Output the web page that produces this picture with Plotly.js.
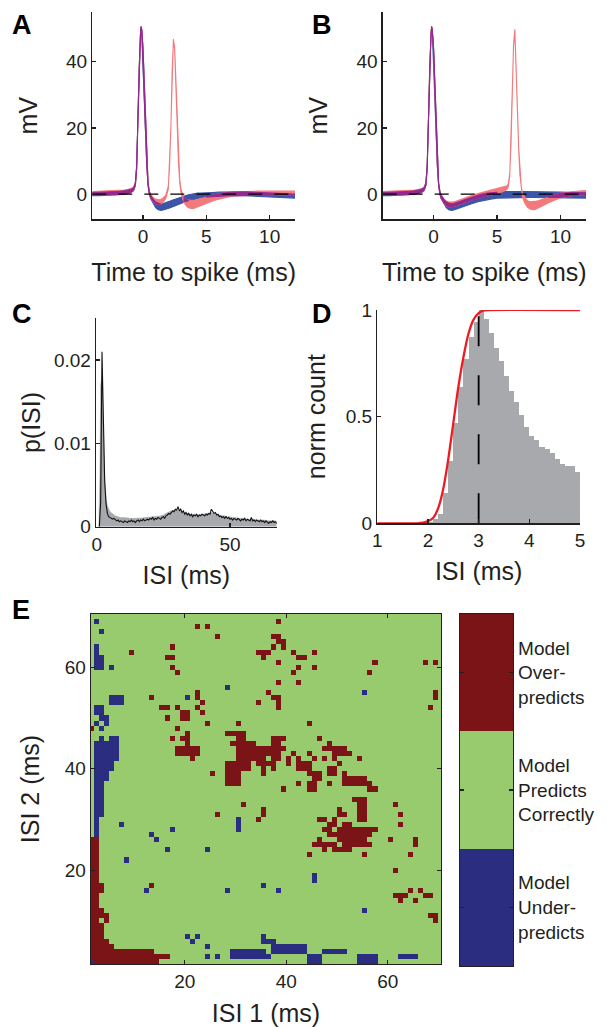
<!DOCTYPE html>
<html><head><meta charset="utf-8">
<script src="https://cdn.plot.ly/plotly-3.0.1.min.js"></script>
<style>html,body{margin:0;padding:0;background:#fff}#chart{width:607px;height:1027px}</style>
</head><body><div id="chart"></div>
<script>
// ---------------- Panel A (time to spike, mV) ----------------
const tA = [-4,-3.5,-3,-2.5,-2,-1.5,-1.2,-1,-0.8,-0.7,-0.6,-0.5,-0.4,-0.3,-0.2,-0.15,-0.1,0,0.1,0.2,0.3,0.4,0.5,0.6,0.8,1.0,1.2,1.4,1.6,1.8,2.0,2.1,2.2,2.3,2.4,2.5,2.6,2.7,2.8,2.9,3.0,3.2,3.4,3.6,3.8,4.0,4.3,4.6,5.0,5.5,6,6.5,7,8,9,10,11,12];
const modelA = [0,0.05,0.1,0.2,0.3,0.5,0.7,0.9,1.3,1.8,3.0,8,22,38,48,50.3,49.5,44,33,20,9,3,0.5,-0.8,-2.2,-3.2,-3.7,-3.9,-3.8,-3.6,-3.3,-3.15,-3.0,-2.85,-2.7,-2.55,-2.4,-2.25,-2.1,-1.95,-1.8,-1.55,-1.3,-1.1,-0.9,-0.75,-0.5,-0.35,-0.2,-0.1,0,0.05,0.1,0.1,0,-0.2,-0.4,-0.6];
const modelSpreadA = [0.5,0.5,0.5,0.5,0.5,0.5,0.5,0.5,0.5,0.5,0.4,0.3,0.3,0.3,0.3,0.3,0.3,0.3,0.3,0.3,0.3,0.3,0.4,0.5,0.7,0.9,1.0,1.0,1.0,1.0,1.0,1.0,1.0,1.0,1.0,1.0,1.0,1.0,1.0,1.0,1.0,1.0,0.9,0.9,0.9,0.8,0.8,0.7,0.7,0.6,0.6,0.6,0.6,0.6,0.6,0.6,0.6,0.6];
const dataA = [0.2,0.25,0.3,0.35,0.45,0.6,0.8,1.0,1.4,1.9,3.0,8,22,38,48,50.3,49.5,44,33,20,9,3,0.5,-0.6,-1.6,-2.2,-2.4,-2.3,-1.8,-0.8,2,8,20,37,46.5,44,33,20,10,4,1,-1.5,-2.6,-3.0,-3.1,-3.1,-2.8,-2.4,-1.8,-1.2,-0.7,-0.3,0,0.2,0.3,0.3,0.3,0.3];
const dataSpreadA = [0.6,0.6,0.6,0.6,0.6,0.6,0.6,0.6,0.5,0.5,0.4,0.3,0.3,0.3,0.3,0.3,0.3,0.3,0.3,0.3,0.3,0.3,0.4,0.5,0.6,0.7,0.7,0.7,0.6,0.5,0.4,0.3,0.3,0.3,0.3,0.3,0.3,0.3,0.3,0.4,0.5,0.7,0.9,1.1,1.2,1.2,1.2,1.1,1.0,0.9,0.8,0.7,0.6,0.6,0.6,0.6,0.6,0.6];

// ---------------- Panel B ----------------
const tB = [-4,-3.5,-3,-2.5,-2,-1.5,-1.2,-1,-0.8,-0.7,-0.6,-0.5,-0.4,-0.3,-0.2,-0.15,-0.1,0,0.1,0.2,0.3,0.4,0.5,0.6,0.8,1.0,1.2,1.4,1.6,1.8,2.0,2.5,3.0,3.5,4.0,4.5,5.0,5.5,5.8,5.9,6.0,6.1,6.2,6.3,6.4,6.5,6.6,6.7,6.8,6.9,7.0,7.2,7.4,7.6,7.8,8.0,8.3,8.6,9,9.5,10,11,12];
const modelB = [0,0.05,0.1,0.2,0.3,0.5,0.7,0.9,1.3,1.8,3.0,8,22,38,48,50.3,49.5,44,33,20,9,3,0.5,-0.8,-2.2,-3.2,-3.7,-3.9,-3.8,-3.6,-3.3,-2.6,-1.9,-1.3,-0.8,-0.5,-0.3,-0.15,-0.1,-0.1,-0.1,-0.1,-0.1,-0.1,-0.1,-0.1,-0.1,-0.1,-0.1,-0.1,-0.1,-0.1,-0.1,-0.1,-0.1,-0.1,-0.1,-0.1,-0.1,-0.1,-0.2,-0.3,-0.4];
const modelSpreadB = [0.5,0.5,0.5,0.5,0.5,0.5,0.5,0.5,0.5,0.5,0.4,0.3,0.3,0.3,0.3,0.3,0.3,0.3,0.3,0.3,0.3,0.3,0.4,0.5,0.7,0.9,1.0,1.0,1.0,1.0,1.0,1.0,1.0,1.0,1.0,1.0,0.9,0.9,0.9,0.9,0.9,0.9,0.9,0.9,0.9,0.9,0.9,0.9,0.9,0.9,0.9,0.9,0.9,0.9,0.9,0.9,0.9,0.9,0.9,0.9,0.8,0.8,0.8];
const dataB = [0.2,0.25,0.3,0.35,0.45,0.6,0.8,1.0,1.4,1.9,3.0,8,22,38,48,50.3,49.5,44,33,20,9,3,0.5,-0.8,-2.0,-2.8,-3.1,-3.1,-3.0,-2.8,-2.5,-1.8,-1.1,-0.5,0.0,0.4,0.9,1.4,2.0,3,6,15,30,45,49.5,40,26,14,6,2,-0.5,-2,-3,-3.4,-3.5,-3.4,-3.0,-2.5,-1.8,-1.0,-0.4,0.2,0.5];
const dataSpreadB = [0.6,0.6,0.6,0.6,0.6,0.6,0.6,0.6,0.5,0.5,0.4,0.3,0.3,0.3,0.3,0.3,0.3,0.3,0.3,0.3,0.3,0.3,0.4,0.5,0.6,0.7,0.7,0.7,0.7,0.7,0.7,0.7,0.7,0.7,0.7,0.7,0.7,0.6,0.5,0.4,0.3,0.3,0.3,0.3,0.3,0.3,0.3,0.3,0.3,0.4,0.5,0.8,1.0,1.1,1.2,1.2,1.1,1.0,0.9,0.8,0.7,0.6,0.6];

// ---------------- Panel C (p(ISI)) ----------------
const dataIsiT = [0.8,1.2,1.5,2.0,2.5,3.0,3.5,4.0,5,6,7,8,9,10,11,12,13,14,15,16,17,18,19,20,21,22,23,24,25,26,27,28,29,30,31,32,33,34,35,36,37,38,39,40,41,42,43,44,45,46,47,48,49,50,51,52,53,54,55,56,57,58,59,60,61,62,63,64,65,66,67,67.5];
const dataIsiP = [0,0.006,0.017,0.018,0.012,0.006,0.0035,0.0025,0.0018,0.0015,0.0013,0.0012,0.0011,0.0011,0.00105,0.001,0.001,0.001,0.001,0.001,0.00105,0.0011,0.0011,0.00115,0.0012,0.0012,0.00125,0.0013,0.0014,0.0016,0.0018,0.0019,0.002,0.002,0.0019,0.0018,0.0017,0.0016,0.0015,0.0015,0.0015,0.0014,0.0015,0.0015,0.0016,0.0016,0.0017,0.0016,0.0015,0.0014,0.0013,0.0013,0.0012,0.0012,0.0011,0.0011,0.001,0.001,0.001,0.0009,0.0009,0.0009,0.0009,0.0008,0.0008,0.0008,0.0008,0.0007,0.0007,0.0007,0.0007,0.0006];
const modelIsiP = [0,0.003,0.021,0.011,0.0055,0.0028,0.0016,0.0012,0.0011,0.0010,0.0009,0.0010,0.0008,0.0007,0.0008,0.0006,0.0007,0.0006,0.0005,0.0007,0.0006,0.0005,0.0007,0.0006,0.0008,0.0006,0.0007,0.0005,0.0007,0.0008,0.0006,0.0008,0.0007,0.0009,0.0007,0.0008,0.0009,0.0008,0.0010,0.0009,0.0011,0.0008,0.0010,0.0009,0.0011,0.0010,0.0009,0.0011,0.0012,0.0010,0.0013,0.0014,0.0016,0.0015,0.0017,0.0019,0.0018,0.0021,0.0020,0.0024,0.0019,0.0021,0.0017,0.0019,0.0015,0.0017,0.0014,0.0016,0.0013,0.0015,0.0012,0.0014,0.0013,0.0015,0.0012,0.0014,0.0013,0.0015,0.0014,0.0013,0.0015,0.0014,0.0016,0.0015,0.0021,0.0018,0.0016,0.0017,0.0014,0.0015,0.0012,0.0013,0.0011,0.0012,0.0010,0.0012,0.0010,0.0011,0.0009,0.0010,0.0008,0.0010,0.0009,0.0008,0.0010,0.0009,0.0007,0.0009,0.0008,0.0010,0.0007,0.0009,0.0008,0.0007,0.0011,0.0007,0.0008,0.0006,0.0008,0.0007,0.0006,0.0008,0.0006,0.0007,0.0005,0.0007,0.0006,0.0004,0.0006,0.0005,0.0007,0.0005,0.0006,0.0004,0.0005];
const modelIsiT = modelIsiP.map((_, i) => 1.0 + 0.5 * i);

// ---------------- Panel D (norm count) ----------------
const binCentersD = [1.05,1.15,1.25,1.35,1.45,1.55,1.65,1.75,1.85,1.95,2.05,2.15,2.25,2.35,2.45,2.55,2.65,2.75,2.85,2.95,3.05,3.15,3.25,3.35,3.45,3.55,3.65,3.75,3.85,3.95,4.05,4.15,4.25,4.35,4.45,4.55,4.65,4.75,4.85,4.95];
const normCountD = [0,0,0,0,0,0,0,0,0,0,0.005,0.02,0.045,0.14,0.29,0.47,0.64,0.77,0.875,0.945,1.0,0.96,0.89,0.82,0.76,0.69,0.62,0.57,0.51,0.45,0.41,0.39,0.36,0.35,0.33,0.30,0.28,0.27,0.27,0.24];
const cdfX = [1,1.8,1.9,2.0,2.1,2.2,2.3,2.4,2.5,2.6,2.7,2.8,2.9,3.0,3.1,3.2,5.0];
const cdfY = [0,0,0.003,0.01,0.025,0.07,0.16,0.3,0.47,0.64,0.78,0.89,0.955,0.985,0.998,1,1];
const markerIsi = 3;

// ---------------- Panel E (ISI 1 vs ISI 2 map) ----------------
const isi1 = []; for (let v = 1; v <= 70; v++) isi1.push(v + 0.5);
const isi2 = []; for (let v = 70; v >= 2; v--) isi2.push(v);
// rows from ISI2 = 70 (top) to ISI2 = 2 (bottom); r = over-predicts, b = under-predicts, rest correct
const mapRows = [
"", "b2 r38", "r22 r24", "b3", "r26 r37-38", "r38-39", "b2 r17 r37 r39", "b2 r9 r34-36 r41 r45",
"b2-3 r16-17 r35 r42-43", "b2-3 r38 r57 r67 r69", "b2-3 b5 r17 r42 r45", "r18 r41 r56", "", "r38 r42", "b28",
"r22 r36 b55 r69", "b5-7 r13 b20 r22 r37-38 r69", "b5-7 r23 r34 r38", "b2-3 r15-16 r18 r22 r38 r68",
"b2-3 r19-20 r23", "b3-4 r16 r19-20", "b2 b4 r24 r30 r44", "r1 b3 r18", "r20 r28-31",
"b3 b5-6 r17 r19-20 r30-31 r37-39 r46", "b2-6 r20 r29-33 r37-38 r48", "b2-6 r18-22 r30-39 r47-51",
"b2-6 r18-22 r30-38 r41 r44 r49-52", "b2-6 r21 r30-35 r37-38 r40 r42 r45 r47 r49 r54",
"b2-5 r28-32 r34-37 r40 r42-44 r50", "b2-5 r28-32 r35 r37 r42-44 r48-49",
"b2-4 r25 r28-30 r35 r44-46 r48-49 r51", "b2-4 r28-30 r45-46 r51-55", "b2-3 r28-30 r42 r44-45 r48 r51-56",
"b2-3 r39 r44-45 r56-57", "b2-3", "b2-3 r53-55", "b2-3 r31 r54-55 r61", "b2-3 r35 r50 r54-55",
"b2-3 r26 r35 r50-51 r54-55 r62", "b2 b30 r34 r46-47 r49 r54-55", "b2 b7 b30 r48-49 r51-52 r62",
"b2 b17 b30 r47-48 r50-57", "b2 b13 r48-56", "r1-2 b14 r46 r50-55 r60 r65", "r1-2 r45-49 r51-56 r65",
"r1-2 b16 b24 r47 r49-52", "r1-2 r44 r55 r64", "r1-2 b8", "r1-2", "r1-2 r61", "r1-2 b45", "r1-2 b45",
"r1-3 r13 b35", "r1-3 b12 b28 b38 r64 r66", "r1-2 r61-63 r67-68", "r1-2 r62 r65", "r1-2", "r1-3 b55",
"r1-4 r68-69", "r1-2 r4 r69", "r1-3", "r1-3", "r1-3 b20 b22 b35", "r1-4 b21 b35-37", "r1-5 b24 b37-43",
"r1-13 b29-35 b37-43 b47-51", "r1-16 b24 b26 b29-36 b44-46 b54-57 b62-65", "b1 r2-14 b44-46 b54-57"
];
const categoryCodes = [0, 1, 2];
const categoryLabels = ['Model<br>Under-<br>predicts', 'Model<br>Predicts<br>Correctly', 'Model<br>Over-<br>predicts'];
const categoryColors = ['#2b2e80', '#98cb6e', '#7b1417'];

// ---------------- build ----------------
const FONT = '"Liberation Sans", Arial, Helvetica, sans-serif';
const INK = '#231f20';
const W = 607, H = 1027;
const fx = p => p / W;
const fy = p => 1 - p / H;
const BLUE = '#3c55a6';
const RED = '#f27a7d';
const PURPLE = '#93288f';

function polygon(t, up, lo, color, xa, ya, lw) {
  return { x: t.concat(t.slice().reverse()), y: up.concat(lo.slice().reverse()), xaxis: xa, yaxis: ya,
    type: 'scatter', mode: 'lines', fill: 'toself', fillcolor: color,
    line: { color: color, width: lw }, hoverinfo: 'skip' };
}
function band(t, m, s, color, xa, ya) {
  return polygon(t, m.map((v, i) => v + s[i]), m.map((v, i) => v - s[i]), color, xa, ya, 1.1);
}
// where model and data bands overlap, the drawing shows a purple band
function overlapBands(t, m1, s1, m2, s2, xa, ya) {
  const out = []; let seg = null;
  t.forEach((tt, i) => {
    const up = Math.min(m1[i] + s1[i], m2[i] + s2[i]);
    const lo = Math.max(m1[i] - s1[i], m2[i] - s2[i]);
    if (lo < up) { if (!seg) seg = { t: [], up: [], lo: [] }; seg.t.push(tt); seg.up.push(up); seg.lo.push(lo); }
    else if (seg) { out.push(seg); seg = null; }
  });
  if (seg) out.push(seg);
  return out.filter(s => s.t.length > 1).map(s => polygon(s.t, s.up, s.lo, PURPLE, xa, ya, 1.0));
}
function zeroLine(xa, ya) {
  return { x: [-4, 12], y: [0, 0], xaxis: xa, yaxis: ya, type: 'scatter', mode: 'lines',
    line: { color: '#000', width: 1.1, dash: '14px,12px' }, hoverinfo: 'skip' };
}

// Map grid
const z = mapRows.map(row => {
  const r = new Array(70).fill(1);
  row.split(/\s+/).filter(Boolean).forEach(tok => {
    const code = tok[0] === 'r' ? 2 : 0;
    const [a, b] = tok.slice(1).split('-').map(Number);
    for (let v = a; v <= (b || a); v++) r[v - 1] = code;
  });
  return r;
});
const discreteScale = [[0, categoryColors[0]], [1/3, categoryColors[0]], [1/3, categoryColors[1]], [2/3, categoryColors[1]], [2/3, categoryColors[2]], [1, categoryColors[2]]];

const traces = [
  band(tA, modelA, modelSpreadA, BLUE, 'x', 'y'),
  band(tA, dataA, dataSpreadA, RED, 'x', 'y'),
  ...overlapBands(tA, modelA, modelSpreadA, dataA, dataSpreadA, 'x', 'y'),
  zeroLine('x', 'y'),
  band(tB, modelB, modelSpreadB, BLUE, 'x2', 'y2'),
  band(tB, dataB, dataSpreadB, RED, 'x2', 'y2'),
  ...overlapBands(tB, modelB, modelSpreadB, dataB, dataSpreadB, 'x2', 'y2'),
  zeroLine('x2', 'y2'),
  { x: dataIsiT, y: dataIsiP, xaxis: 'x3', yaxis: 'y3', type: 'scatter', mode: 'lines', fill: 'tozeroy',
    fillcolor: '#a7a9ac', line: { color: '#a7a9ac', width: 0.5 }, hoverinfo: 'skip' },
  { x: modelIsiT, y: modelIsiP, xaxis: 'x3', yaxis: 'y3', type: 'scatter', mode: 'lines',
    line: { color: '#111', width: 1.1 }, hoverinfo: 'skip' },
  { x: binCentersD, y: normCountD, xaxis: 'x4', yaxis: 'y4', type: 'bar', width: 0.1,
    marker: { color: '#a7a9ac', line: { width: 0 } }, hoverinfo: 'skip' },
  { x: [markerIsi, markerIsi], y: [0, 1], xaxis: 'x4', yaxis: 'y4', type: 'scatter', mode: 'lines',
    line: { color: '#000', width: 1.8, dash: '30px,29px' }, hoverinfo: 'skip' },
  { x: cdfX, y: cdfY, xaxis: 'x4', yaxis: 'y4', type: 'scatter', mode: 'lines',
    line: { color: '#ec1c24', width: 2.3, shape: 'spline', smoothing: 0.8 }, hoverinfo: 'skip' },
  { z: z, x: isi1, y: isi2, xaxis: 'x5', yaxis: 'y5', type: 'heatmap', zmin: -0.5, zmax: 2.5,
    colorscale: discreteScale, showscale: false, zsmooth: false, hoverinfo: 'skip' },
  { z: categoryCodes.map(c => [c]), x: [0], y: categoryCodes, xaxis: 'x6', yaxis: 'y6', type: 'heatmap',
    zmin: -0.5, zmax: 2.5, colorscale: discreteScale, showscale: false, hoverinfo: 'skip' }
];

const tickFont = { family: FONT, size: 19, color: INK };
const titleFont = { family: FONT, size: 25, color: INK };
function axis(domain, range, tickvals, extra) {
  return Object.assign({ domain: domain, range: range, tickvals: tickvals, showline: true, linecolor: INK,
    linewidth: 1.3, ticks: 'inside', ticklen: 4, tickcolor: INK, tickwidth: 1.2, showgrid: false, zeroline: false,
    tickfont: tickFont, automargin: false, fixedrange: true }, extra || {});
}

const layout = {
  width: W, height: H, margin: { l: 0, r: 0, t: 0, b: 0 }, paper_bgcolor: '#fff', plot_bgcolor: 'rgba(0,0,0,0)',
  showlegend: false, font: { family: FONT, color: INK }, bargap: 0,
  xaxis: axis([fx(92.3), fx(295)], [-4, 12], [0, 5, 10], { anchor: 'y', title: { text: 'Time to spike (ms)', font: titleFont, standoff: 17 } }),
  yaxis: axis([fy(219.3), fy(12)], [-7.6, 55], [0, 20, 40], { anchor: 'x', title: { text: 'mV', font: titleFont, standoff: 21 } }),
  xaxis2: axis([fx(382.7), fx(586)], [-4, 12], [0, 5, 10], { anchor: 'y2', title: { text: 'Time to spike (ms)', font: titleFont, standoff: 17 } }),
  yaxis2: axis([fy(219.3), fy(12)], [-7.6, 55], [0, 20, 40], { anchor: 'x2', title: { text: 'mV', font: titleFont, standoff: 21 } }),
  xaxis3: axis([fx(96), fx(276.7)], [-0.25, 67.5], [0, 50], { anchor: 'y3', title: { text: 'ISI (ms)', font: titleFont, standoff: 12 } }),
  yaxis3: axis([fy(526.7), fy(318.3)], [0, 0.025], [0, 0.01, 0.02], { anchor: 'x3', ticktext: ['0', '0.01', '0.02'], tickmode: 'array', title: { text: 'p(ISI)', font: titleFont, standoff: 6 } }),
  xaxis4: axis([fx(377.3), fx(580)], [1, 5], [1, 2, 3, 4, 5], { anchor: 'y4', title: { text: 'ISI (ms)', font: titleFont, standoff: 12 } }),
  yaxis4: axis([fy(523.3), fy(310)], [0, 1], [0, 0.5, 1], { anchor: 'x4', title: { text: 'norm count', font: titleFont, standoff: 13 } }),
  xaxis5: axis([fx(91), fx(441)], [1.5, 70.5], [20, 40, 60], { anchor: 'y5', mirror: 'ticks', title: { text: 'ISI 1 (ms)', font: titleFont, standoff: 13 } }),
  yaxis5: axis([fy(964), fy(614)], [1.5, 70.5], [20, 40, 60], { anchor: 'x5', mirror: 'ticks', title: { text: 'ISI 2 (ms)', font: titleFont, standoff: 18 } }),
  xaxis6: axis([fx(460), fx(513)], [-0.5, 0.5], [], { anchor: 'y6', mirror: true, ticks: '', showticklabels: false }),
  yaxis6: axis([fy(966), fy(614)], [-0.5, 2.5], categoryCodes, { anchor: 'x6', side: 'right', mirror: 'ticks', tickmode: 'array', ticktext: categoryLabels, tickfont: { family: FONT, size: 19, color: INK } }),
  annotations: [
    ['A', 21.5, 24.5], ['B', 321.7, 24.5], ['C', 21.7, 314], ['D', 321.7, 314], ['E', 21, 610]
  ].map(([t, x, y]) => ({ text: '<b>' + t + '</b>', x: fx(x), y: fy(y), xref: 'paper', yref: 'paper',
    xanchor: 'center', yanchor: 'middle', showarrow: false, font: { family: FONT, size: 27, color: '#000' } }))
};

Plotly.newPlot('chart', traces, layout, { staticPlot: true, displayModeBar: false });
</script></body></html>
